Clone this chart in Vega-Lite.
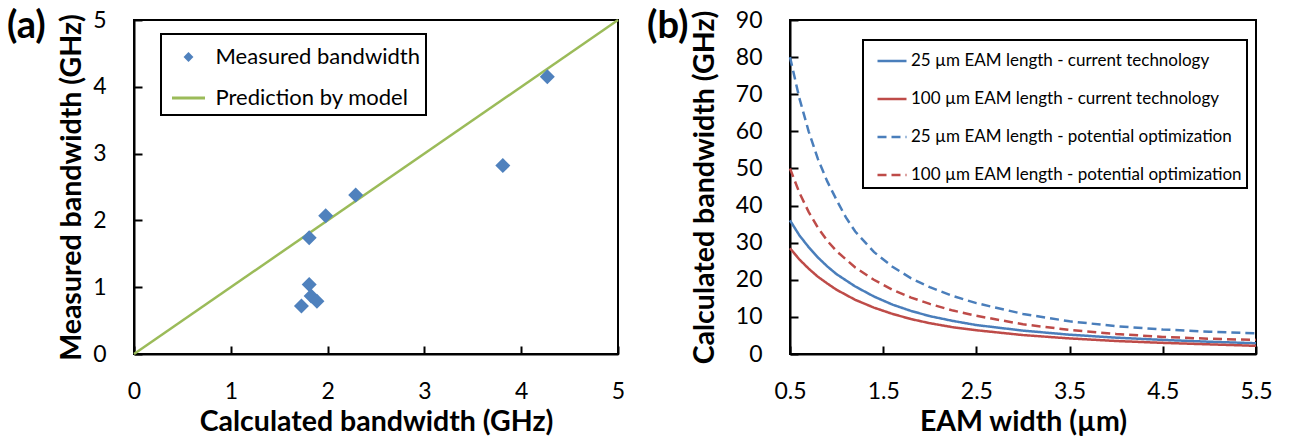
{
  "$schema": "https://vega.github.io/schema/vega-lite/v6.json",
  "background": "white",
  "padding": {"left": 6, "top": 7, "right": 10, "bottom": 2},
  "bounds": "flush",
  "spacing": 172,
  "resolve": {
    "scale": {"color": "independent", "shape": "independent", "strokeDash": "independent"},
    "legend": {"color": "independent", "shape": "independent", "strokeDash": "independent"}
  },
  "config": {
    "font": "Lato",
    "view": {"stroke": "black", "strokeWidth": 2},
    "axis": {
      "grid": false,
      "domainColor": "black", "domainWidth": 2,
      "tickColor": "black", "tickWidth": 2, "tickSize": -8,
      "labelFontSize": 23, "labelColor": "black", "labelPadding": 36,
      "titleFontSize": 28.5, "titleFontWeight": "bold", "titleColor": "black"
    },
    "legend": {"strokeWidth": 2}
  },
  "hconcat": [
    {
      "width": 484, "height": 334,
      "title": {"text": "(a)", "anchor": "start", "frame": "group", "dx": -127, "offset": -56, "baseline": "middle", "fontSize": 38, "fontWeight": "bold", "color": "black"},
      "layer": [
        {
          "data": {"values": [{"x": 0, "y": 0}, {"x": 5, "y": 5}]},
          "mark": {"type": "line", "color": "#9BBB59", "strokeWidth": 2.5},
          "encoding": {
            "x": {"field": "x", "type": "quantitative", "scale": {"domain": [0, 5]}, "axis": {"values": [0, 1, 2, 3, 4, 5], "format": "d", "title": "Calculated bandwidth (GHz)", "labelFlush": false, "labelPadding": 34, "titlePadding": 4}},
            "y": {"field": "y", "type": "quantitative", "scale": {"domain": [0, 5]}, "axis": {"values": [0, 1, 2, 3, 4, 5], "format": "d", "title": "Measured bandwidth (GHz)", "labelFlush": false, "titlePadding": 6}}
          }
        },
        {
          "data": {"values": [
            {"calc": 4.27, "meas": 4.15, "series": "Measured bandwidth"},
            {"calc": 3.81, "meas": 2.82, "series": "Measured bandwidth"},
            {"calc": 2.29, "meas": 2.38, "series": "Measured bandwidth"},
            {"calc": 1.98, "meas": 2.07, "series": "Measured bandwidth"},
            {"calc": 1.81, "meas": 1.74, "series": "Measured bandwidth"},
            {"calc": 1.81, "meas": 1.04, "series": "Measured bandwidth"},
            {"calc": 1.83, "meas": 0.87, "series": "Measured bandwidth"},
            {"calc": 1.89, "meas": 0.79, "series": "Measured bandwidth"},
            {"calc": 1.73, "meas": 0.72, "series": "Measured bandwidth"}
          ]},
          "mark": {"type": "point", "filled": true, "opacity": 1, "size": 2500},
          "encoding": {
            "x": {"field": "calc", "type": "quantitative"},
            "y": {"field": "meas", "type": "quantitative"},
            "color": {"field": "series", "type": "nominal",
              "scale": {"domain": ["Measured bandwidth", "Prediction by model"], "range": ["#4F81BD", "#9BBB59"]},
              "legend": {"orient": "none", "legendX": 27, "legendY": 14, "title": null, "strokeColor": "black", "fillColor": "white", "padding": 5.5, "rowPadding": 12, "symbolSize": 1089, "symbolOffset": 4.5, "labelOffset": 9.5, "labelFontSize": 22, "labelColor": "black", "labelLimit": 400, "symbolOpacity": 1}},
            "shape": {"field": "series", "type": "nominal",
              "scale": {"domain": ["Measured bandwidth", "Prediction by model"], "range": ["M0,-0.3L0.3,0L0,0.3L-0.3,0Z", "M-1,-0.09L1,-0.09L1,0.09L-1,0.09Z"]}}
          }
        }
      ]
    },
    {
      "width": 466, "height": 334,
      "title": {"text": "(b)", "anchor": "start", "frame": "group", "dx": -143, "offset": -56, "baseline": "middle", "fontSize": 38, "fontWeight": "bold", "color": "black"},
      "data": {"values": [
        {"w": 0.5, "bw": 36, "s": "25 µm EAM length - current technology"},
        {"w": 0.6, "bw": 32, "s": "25 µm EAM length - current technology"},
        {"w": 0.7, "bw": 28.8, "s": "25 µm EAM length - current technology"},
        {"w": 0.8, "bw": 26, "s": "25 µm EAM length - current technology"},
        {"w": 0.9, "bw": 23.6, "s": "25 µm EAM length - current technology"},
        {"w": 1.0, "bw": 21.5, "s": "25 µm EAM length - current technology"},
        {"w": 1.2, "bw": 18.2, "s": "25 µm EAM length - current technology"},
        {"w": 1.4, "bw": 15.5, "s": "25 µm EAM length - current technology"},
        {"w": 1.6, "bw": 13.3, "s": "25 µm EAM length - current technology"},
        {"w": 1.8, "bw": 11.6, "s": "25 µm EAM length - current technology"},
        {"w": 2.0, "bw": 10.2, "s": "25 µm EAM length - current technology"},
        {"w": 2.25, "bw": 8.9, "s": "25 µm EAM length - current technology"},
        {"w": 2.5, "bw": 7.8, "s": "25 µm EAM length - current technology"},
        {"w": 3.0, "bw": 6.3, "s": "25 µm EAM length - current technology"},
        {"w": 3.5, "bw": 5.2, "s": "25 µm EAM length - current technology"},
        {"w": 4.0, "bw": 4.4, "s": "25 µm EAM length - current technology"},
        {"w": 4.5, "bw": 3.8, "s": "25 µm EAM length - current technology"},
        {"w": 5.0, "bw": 3.3, "s": "25 µm EAM length - current technology"},
        {"w": 5.5, "bw": 2.9, "s": "25 µm EAM length - current technology"},
        {"w": 0.5, "bw": 28.5, "s": "100 µm EAM length - current technology"},
        {"w": 0.6, "bw": 25.5, "s": "100 µm EAM length - current technology"},
        {"w": 0.7, "bw": 23, "s": "100 µm EAM length - current technology"},
        {"w": 0.8, "bw": 20.8, "s": "100 µm EAM length - current technology"},
        {"w": 0.9, "bw": 19, "s": "100 µm EAM length - current technology"},
        {"w": 1.0, "bw": 17.3, "s": "100 µm EAM length - current technology"},
        {"w": 1.2, "bw": 14.6, "s": "100 µm EAM length - current technology"},
        {"w": 1.4, "bw": 12.5, "s": "100 µm EAM length - current technology"},
        {"w": 1.6, "bw": 10.8, "s": "100 µm EAM length - current technology"},
        {"w": 1.8, "bw": 9.4, "s": "100 µm EAM length - current technology"},
        {"w": 2.0, "bw": 8.3, "s": "100 µm EAM length - current technology"},
        {"w": 2.25, "bw": 7.2, "s": "100 µm EAM length - current technology"},
        {"w": 2.5, "bw": 6.4, "s": "100 µm EAM length - current technology"},
        {"w": 3.0, "bw": 5.1, "s": "100 µm EAM length - current technology"},
        {"w": 3.5, "bw": 4.2, "s": "100 µm EAM length - current technology"},
        {"w": 4.0, "bw": 3.5, "s": "100 µm EAM length - current technology"},
        {"w": 4.5, "bw": 3.0, "s": "100 µm EAM length - current technology"},
        {"w": 5.0, "bw": 2.6, "s": "100 µm EAM length - current technology"},
        {"w": 5.5, "bw": 2.2, "s": "100 µm EAM length - current technology"},
        {"w": 0.5, "bw": 80, "s": "25 µm EAM length - potential optimization"},
        {"w": 0.6, "bw": 69, "s": "25 µm EAM length - potential optimization"},
        {"w": 0.7, "bw": 60, "s": "25 µm EAM length - potential optimization"},
        {"w": 0.8, "bw": 52.5, "s": "25 µm EAM length - potential optimization"},
        {"w": 0.9, "bw": 46.5, "s": "25 µm EAM length - potential optimization"},
        {"w": 1.0, "bw": 41.5, "s": "25 µm EAM length - potential optimization"},
        {"w": 1.1, "bw": 36.8, "s": "25 µm EAM length - potential optimization"},
        {"w": 1.2, "bw": 33, "s": "25 µm EAM length - potential optimization"},
        {"w": 1.4, "bw": 27.5, "s": "25 µm EAM length - potential optimization"},
        {"w": 1.6, "bw": 23.5, "s": "25 µm EAM length - potential optimization"},
        {"w": 1.8, "bw": 20.4, "s": "25 µm EAM length - potential optimization"},
        {"w": 2.0, "bw": 18.0, "s": "25 µm EAM length - potential optimization"},
        {"w": 2.25, "bw": 15.6, "s": "25 µm EAM length - potential optimization"},
        {"w": 2.5, "bw": 13.7, "s": "25 µm EAM length - potential optimization"},
        {"w": 3.0, "bw": 10.8, "s": "25 µm EAM length - potential optimization"},
        {"w": 3.5, "bw": 8.8, "s": "25 µm EAM length - potential optimization"},
        {"w": 4.0, "bw": 7.5, "s": "25 µm EAM length - potential optimization"},
        {"w": 4.5, "bw": 6.6, "s": "25 µm EAM length - potential optimization"},
        {"w": 5.0, "bw": 6.0, "s": "25 µm EAM length - potential optimization"},
        {"w": 5.5, "bw": 5.6, "s": "25 µm EAM length - potential optimization"},
        {"w": 0.5, "bw": 50, "s": "100 µm EAM length - potential optimization"},
        {"w": 0.6, "bw": 43.5, "s": "100 µm EAM length - potential optimization"},
        {"w": 0.7, "bw": 38.3, "s": "100 µm EAM length - potential optimization"},
        {"w": 0.8, "bw": 34, "s": "100 µm EAM length - potential optimization"},
        {"w": 0.9, "bw": 30.5, "s": "100 µm EAM length - potential optimization"},
        {"w": 1.0, "bw": 27.7, "s": "100 µm EAM length - potential optimization"},
        {"w": 1.2, "bw": 23.3, "s": "100 µm EAM length - potential optimization"},
        {"w": 1.4, "bw": 20.0, "s": "100 µm EAM length - potential optimization"},
        {"w": 1.6, "bw": 17.3, "s": "100 µm EAM length - potential optimization"},
        {"w": 1.8, "bw": 15.2, "s": "100 µm EAM length - potential optimization"},
        {"w": 2.0, "bw": 13.5, "s": "100 µm EAM length - potential optimization"},
        {"w": 2.25, "bw": 11.7, "s": "100 µm EAM length - potential optimization"},
        {"w": 2.5, "bw": 10.3, "s": "100 µm EAM length - potential optimization"},
        {"w": 3.0, "bw": 8.0, "s": "100 µm EAM length - potential optimization"},
        {"w": 3.5, "bw": 6.5, "s": "100 µm EAM length - potential optimization"},
        {"w": 4.0, "bw": 5.4, "s": "100 µm EAM length - potential optimization"},
        {"w": 4.5, "bw": 4.6, "s": "100 µm EAM length - potential optimization"},
        {"w": 5.0, "bw": 4.1, "s": "100 µm EAM length - potential optimization"},
        {"w": 5.5, "bw": 3.8, "s": "100 µm EAM length - potential optimization"}
      ]},
      "mark": {"type": "line", "strokeWidth": 2.5},
      "encoding": {
        "x": {"field": "w", "type": "quantitative", "scale": {"domain": [0.5, 5.5], "nice": false, "zero": false}, "axis": {"values": [0.5, 1.5, 2.5, 3.5, 4.5, 5.5], "format": ".1f", "title": "EAM width (µm)", "labelFlush": false, "labelPadding": 34, "titlePadding": 4}},
        "y": {"field": "bw", "type": "quantitative", "scale": {"domain": [0, 90]}, "axis": {"values": [0, 10, 20, 30, 40, 50, 60, 70, 80, 90], "format": "d", "title": "Calculated bandwidth (GHz)", "labelFlush": false, "titlePadding": 16}},
        "color": {"field": "s", "type": "nominal",
          "scale": {"domain": ["25 µm EAM length - current technology", "100 µm EAM length - current technology", "25 µm EAM length - potential optimization", "100 µm EAM length - potential optimization"], "range": ["#4A7EBB", "#BE4B48", "#4A7EBB", "#BE4B48"]},
          "legend": {"orient": "none", "legendX": 73, "legendY": 20, "title": null, "strokeColor": "black", "fillColor": "white", "padding": 5, "rowPadding": 14, "symbolSize": 841, "symbolOffset": 8, "labelOffset": 3, "labelFontSize": 17, "labelColor": "black", "labelLimit": 400, "symbolStrokeWidth": 2.5}},
        "strokeDash": {"field": "s", "type": "nominal",
          "scale": {"domain": ["25 µm EAM length - current technology", "100 µm EAM length - current technology", "25 µm EAM length - potential optimization", "100 µm EAM length - potential optimization"], "range": [[1, 0], [1, 0], [9, 5], [9, 5]]}}
      }
    }
  ]
}
